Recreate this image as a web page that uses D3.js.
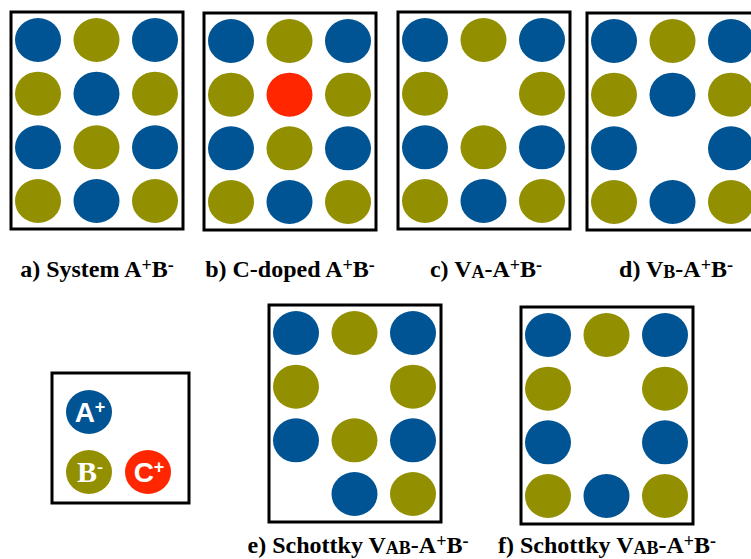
<!DOCTYPE html>
<html>
<head>
<meta charset="utf-8">
<script src="https://cdn.jsdelivr.net/npm/d3@7"></script>
<style>
  body { margin: 0; background: #fff; }
  svg { display: block; }
</style>
</head>
<body>
<div id="chart"></div>
<script>
// lattice of each panel, one string per row: A = cation, B = anion, C = dopant, "." = vacancy
const latticeA = ["ABA", "BAB", "ABA", "BAB"];
const latticeB = ["ABA", "BCB", "ABA", "BAB"];
const latticeC = ["ABA", "B.B", "ABA", "BAB"];
const latticeD = ["ABA", "BAB", "A.A", "BAB"];
const latticeE = ["ABA", "B.B", "ABA", ".AB"];
const latticeF = ["ABA", "B.B", "A.A", "BAB"];
// panel captions: ^x = superscript, _XX = subscript
const captions = ["a) System A^+B^-", "b) C-doped A^+B^-", "c) V_A-A^+B^-",
                  "d) V_B-A^+B^-", "e) Schottky V_AB-A^+B^-", "f) Schottky V_AB-A^+B^-"];
const species = ["A", "B", "C"];
const legendLabels = ["A^+", "B^-", "C^+"];

const width = 751, height = 559;
const serif = '"Liberation Serif", "Times New Roman", serif';
const sans = '"Liberation Sans", Arial, sans-serif';

const svg = d3.select("#chart")
    .append("svg")
    .attr("width", width)
    .attr("height", height);

const color = d3.scaleOrdinal()
    .domain(species)
    .range(["#005493", "#929000", "#ff2600"]);

// where each panel box sits and where its caption goes
const layout = [
    {x: 11,  y: 12,  cx: 97,  cy: 277},
    {x: 204, y: 13,  cx: 290, cy: 277},
    {x: 398, y: 12,  cx: 486, cy: 277},
    {x: 587, y: 13,  cx: 676, cy: 277},
    {x: 269, y: 305, cx: 358, cy: 553},
    {x: 521, y: 307, cx: 607, cy: 553}
];
const lattices = [latticeA, latticeB, latticeC, latticeD, latticeE, latticeF];
const boxW = 172, boxH = 217, rx = 23, ry = 22;

// positions of the sites inside a box
const col = d3.scalePoint().domain([0, 1, 2]).range([27, 144]);
const row = d3.scalePoint().domain([0, 1, 2, 3]).range([28, 189]);

// writes "A^+B^-" style strings as tspans, shifts in px
function richText(sel, str, small, up, down) {
    const parts = str.match(/\^.|_[A-Z]+|[^\^_]+/g);
    let shift = 0;
    parts.forEach(p => {
        let t = sel.append("tspan");
        let dy = 0;
        if (p[0] === "^") {
            dy = -up;
            t.text(p.slice(1)).style("font-size", small);
        } else if (p[0] === "_") {
            dy = down;
            t.text(p.slice(1)).style("font-size", small);
        } else {
            t.text(p);
        }
        t.attr("dy", dy - shift);
        shift = dy;
    });
}

const panels = svg.selectAll("g.panel")
    .data(lattices)
    .join("g")
    .attr("class", "panel")
    .attr("transform", (d, i) => `translate(${layout[i].x},${layout[i].y})`);

panels.append("rect")
    .attr("width", boxW)
    .attr("height", boxH)
    .attr("fill", "none")
    .attr("stroke", "#000")
    .attr("stroke-width", 3);

panels.selectAll("ellipse")
    .data(d => d.flatMap((r, ri) => r.split("").map((s, ci) => ({s, ri, ci}))).filter(d => d.s !== "."))
    .join("ellipse")
    .attr("cx", d => col(d.ci))
    .attr("cy", d => row(d.ri))
    .attr("rx", rx)
    .attr("ry", ry)
    .attr("fill", d => color(d.s));

svg.selectAll("text.caption")
    .data(captions)
    .join("text")
    .attr("class", "caption")
    .attr("x", (d, i) => layout[i].cx)
    .attr("y", (d, i) => layout[i].cy)
    .attr("text-anchor", "middle")
    .style("font-family", serif)
    .style("font-weight", "bold")
    .style("font-size", "24px")
    .each(function(d) { richText(d3.select(this), d, "18px", 6, 1); });

// legend
const legend = svg.append("g").attr("transform", "translate(52,373)");
legend.append("rect")
    .attr("width", 137)
    .attr("height", 130)
    .attr("fill", "none")
    .attr("stroke", "#000")
    .attr("stroke-width", 3);

const legendPos = [{x: 37, y: 39}, {x: 37, y: 99}, {x: 96, y: 99}];
const legendFont = [sans, serif, sans];

const key = legend.selectAll("g.key")
    .data(species)
    .join("g")
    .attr("class", "key")
    .attr("transform", (d, i) => `translate(${legendPos[i].x},${legendPos[i].y})`);

key.append("ellipse")
    .attr("rx", rx)
    .attr("ry", ry)
    .attr("fill", d => color(d));

key.append("text")
    .attr("x", 1)
    .attr("y", 10)
    .attr("text-anchor", "middle")
    .attr("fill", "#fff")
    .style("font-family", (d, i) => legendFont[i])
    .style("font-weight", "bold")
    .style("font-size", (d, i) => i === 1 ? "30px" : "28px")
    .each(function(d, i) { richText(d3.select(this), legendLabels[i], "18px", 9, 0); });
</script>
</body>
</html>
